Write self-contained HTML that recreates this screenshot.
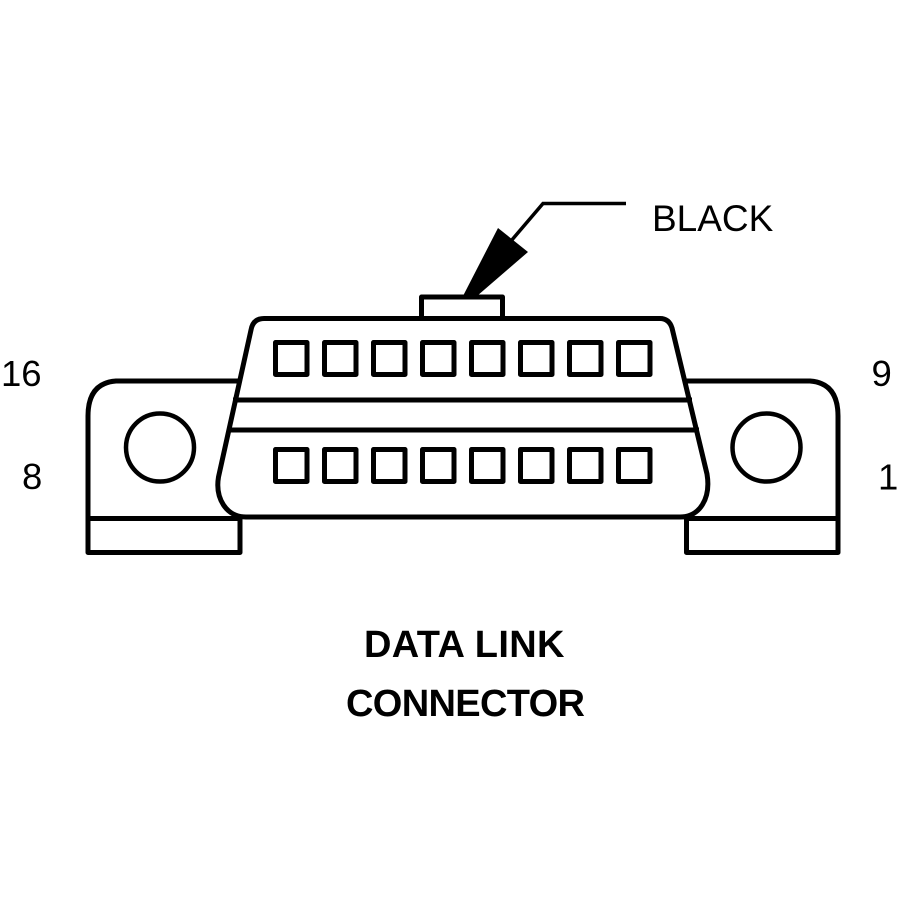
<!DOCTYPE html>
<html>
<head>
<meta charset="utf-8">
<style>
html,body{margin:0;padding:0;background:#fff;}
svg{display:block;}
text{font-family:"Liberation Sans",sans-serif;fill:#000;}
</style>
</head>
<body>
<svg width="900" height="900" viewBox="0 0 900 900" xmlns="http://www.w3.org/2000/svg">
<rect width="900" height="900" fill="#fff"/>
<g fill="none" stroke="#000" stroke-width="5" stroke-linejoin="round">
  <!-- Left ear -->
  <path d="M242 381H116Q88 383 88 416V552.500H240V518.500H88"/>
  <!-- Right ear -->
  <path d="M682 381H810Q838 383 838 416V552.500H686.500V518.500H838"/>
  <circle cx="160" cy="447.500" r="34" stroke-width="4.500"/>
  <circle cx="766.500" cy="447.500" r="34" stroke-width="4.500"/>
  <!-- Body -->
  <path d="M264 318.500H660Q669 318.500 672 328L707 474C711 498 700 517 680 517H246C226 517 215 498 218.500 477L251 330Q253 318.500 264 318.500Z" fill="#fff"/>
  <line x1="233" y1="400" x2="692" y2="400"/>
  <line x1="227" y1="430" x2="699" y2="430"/>
  <!-- Tab -->
  <rect x="421.500" y="297" width="81" height="21.500" fill="#fff"/>
  <!-- Pins -->
  <rect x="275.500" y="342.500" width="31.500" height="32"/>
  <rect x="324.500" y="342.500" width="31.500" height="32"/>
  <rect x="373.500" y="342.500" width="31.500" height="32"/>
  <rect x="422.500" y="342.500" width="31.500" height="32"/>
  <rect x="471.500" y="342.500" width="31.500" height="32"/>
  <rect x="520.500" y="342.500" width="31.500" height="32"/>
  <rect x="569.500" y="342.500" width="31.500" height="32"/>
  <rect x="618.500" y="342.500" width="31.500" height="32"/>
  <rect x="275.500" y="449.500" width="31.500" height="32"/>
  <rect x="324.500" y="449.500" width="31.500" height="32"/>
  <rect x="373.500" y="449.500" width="31.500" height="32"/>
  <rect x="422.500" y="449.500" width="31.500" height="32"/>
  <rect x="471.500" y="449.500" width="31.500" height="32"/>
  <rect x="520.500" y="449.500" width="31.500" height="32"/>
  <rect x="569.500" y="449.500" width="31.500" height="32"/>
  <rect x="618.500" y="449.500" width="31.500" height="32"/>
</g>
<!-- Leader arrow -->
<path d="M511 241L543 203.500H626" fill="none" stroke="#000" stroke-width="3.500"/>
<polygon points="463,296 477,296 528,252 498,228" fill="#000"/>
<!-- Labels -->
<text x="652" y="231" font-size="37">BLACK</text>
<text x="1" y="386" font-size="36.500">16</text>
<text x="871.500" y="386" font-size="36.500">9</text>
<text x="22" y="489" font-size="36.500">8</text>
<text x="878" y="489.500" font-size="36.500">1</text>
<text x="364" y="657" font-size="38" font-weight="bold" textLength="200.500" lengthAdjust="spacing">DATA LINK</text>
<text x="346" y="716" font-size="38" font-weight="bold" textLength="239" lengthAdjust="spacing">CONNECTOR</text>
</svg>
</body>
</html>
